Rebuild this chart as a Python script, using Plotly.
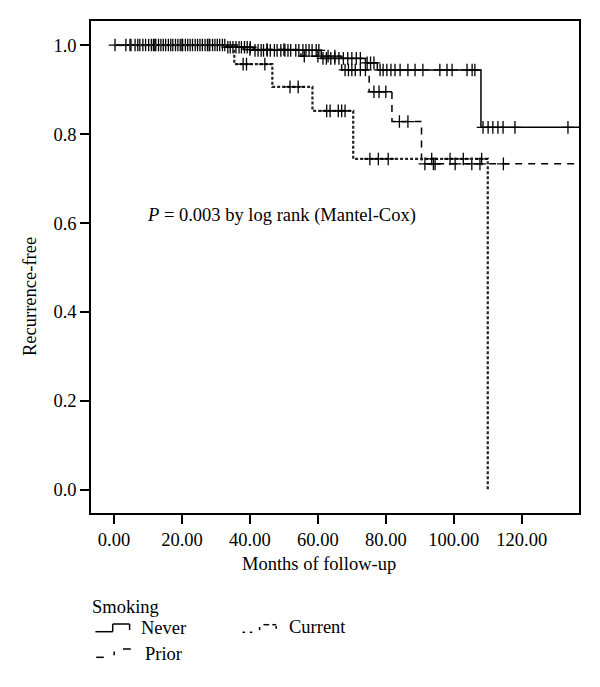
import numpy as np
import plotly.graph_objects as go

# ---------------- data ----------------
never_t = [0, 33, 41, 61, 74, 77.5, 108, 137]
never_s = [1.0, 0.995, 0.988, 0.970, 0.960, 0.944, 0.815, 0.815]
never_cens = [0.3, 3.5, 4.7, 6.2, 7.0, 7.6, 8.5, 9.3, 10.2, 11.0, 11.6, 12.3, 13.1, 13.8,
              14.5, 15.2, 16.0, 16.7, 17.3, 18.1, 18.8, 19.5, 20.2, 21.0, 21.7, 22.4, 23.1,
              23.9, 24.6, 25.3, 26.0, 26.8, 27.5, 28.2, 29.0, 29.7, 30.4, 31.1, 31.9, 32.6,
              33.5, 34.2, 35.0, 35.9, 36.8, 37.5, 38.4, 39.2, 40.1,
              41.5, 42.4, 43.3, 44.0, 45.1, 46.0, 47.2, 48.0, 49.1, 50.3, 51.2, 52.0, 53.5,
              54.4, 55.6, 56.5, 57.4, 58.3, 59.5, 60.3,
              61.5, 62.5, 63.8, 65.0, 66.2, 67.5, 68.8, 70.0, 71.3, 72.5,
              74.5, 75.5, 76.5,
              78.3, 79.2, 80.3, 81.5, 82.7, 84.2, 86.5, 88.6, 90.9, 95.9, 98.0, 99.5,
              103.9, 105.4, 106.2,
              108.6, 110.1, 111.5, 113.0, 114.5, 118.0, 133.6]

prior_t = [0, 38, 55, 67, 75.1, 81.8, 90.5, 137]
prior_s = [1.0, 0.990, 0.975, 0.944, 0.895, 0.828, 0.733, 0.733]
prior_cens = [5.0, 12.0, 20.0, 28.0, 40.0, 45.0, 50.0, 56.0, 60.0, 63.0, 65.0,
              68.0, 69.0, 70.0, 71.0, 72.5, 74.0,
              76.5, 78.0, 80.0, 84.0, 86.5,
              91.5, 94.0, 94.5, 100.4, 105.3, 107.7, 114.6]

current_t = [0, 35.4, 46.6, 58.4, 70.4, 110.0]
current_s = [1.0, 0.957, 0.906, 0.852, 0.744, 0.0]
current_cens = [38.0, 39.0, 44.4, 51.8, 54.2, 62.6, 63.6, 66.0, 67.0, 68.0,
                75.3, 77.8, 80.7, 93.5, 98.9, 102.8, 108.2]

x_ticks = [0, 20, 40, 60, 80, 100, 120]
x_tick_labels = ["0.00", "20.00", "40.00", "60.00", "80.00", "100.00", "120.00"]
y_ticks = [0, 0.2, 0.4, 0.6, 0.8, 1.0]
y_tick_labels = ["0.0", "0.2", "0.4", "0.6", "0.8", "1.0"]

FONT = "Liberation Serif"
FS = 18.5


def step_value(ts, ss, t):
    i = np.searchsorted(np.array(ts), t, side="right") - 1
    return ss[max(i, 0)]


fig = go.Figure()

groups = [
    ("Never", never_t, never_s, never_cens, dict(color="black", width=1.5, dash="solid")),
    ("Prior", prior_t, prior_s, prior_cens, dict(color="black", width=1.5, dash="7px,6px")),
    ("Current", current_t, current_s, current_cens, dict(color="#222", width=2.2, dash="3px,2px")),
]

for name, ts, ss, cens, ln in groups:
    fig.add_trace(go.Scatter(x=ts, y=ss, mode="lines", line=dict(shape="hv", **ln),
                             name=name, showlegend=False, hoverinfo="skip"))
    fig.add_trace(go.Scatter(x=cens, y=[step_value(ts, ss, c) for c in cens], mode="markers",
                             marker=dict(symbol="cross-thin", size=9,
                                         line=dict(color="black", width=1.3)),
                             showlegend=False, hoverinfo="skip"))

W, H = 600, 687
L, R, T, B = 91, 21, 21, 174
PW, PH = W - L - R, H - T - B


def px(x):
    return (x - L) / PW


def py(y):
    return (H - B - y) / PH


def hline(x0, x1, y, **kw):
    return dict(type="line", xref="paper", yref="paper", x0=px(x0), x1=px(x1), y0=py(y), y1=py(y),
                line=dict(color="black", width=1.5, **kw))


def vline(x, y0, y1, **kw):
    return dict(type="line", xref="paper", yref="paper", x0=px(x), x1=px(x), y0=py(y0), y1=py(y1),
                line=dict(color="black", width=1.5, **kw))


shapes = [
    # never legend symbol
    hline(95.4, 112.7, 631.7), vline(112.7, 624, 631.7), hline(112.7, 129.6, 624),
    vline(129.6, 624, 630),
    # prior legend symbol
    hline(96.2, 103.8, 657.3), vline(114.2, 651.5, 655.2), hline(123, 130.8, 649),
    # current legend symbol
    hline(242.5, 245, 632.3), hline(249.8, 252.3, 632.3), vline(259.6, 627, 630.2),
    hline(263.5, 269.2, 624.7), hline(272.3, 276.2, 624.7), vline(276.2, 626, 628.8),
]

txt = dict(family=FONT, size=FS, color="black")
annotations = [
    dict(x=9.1, y=0.616, xref="x", yref="y", text="<i>P</i> = 0.003 by log rank (Mantel-Cox)",
         showarrow=False, xanchor="left", yanchor="middle", font=txt),
    dict(x=px(319), y=py(564), xref="paper", yref="paper", text="Months of follow-up",
         showarrow=False, xanchor="center", yanchor="middle", font=txt),
    dict(x=px(30), y=py(297), xref="paper", yref="paper", text="Recurrence-free", textangle=-90,
         showarrow=False, xanchor="center", yanchor="middle", font=txt),
    dict(x=px(90), y=py(607), xref="paper", yref="paper", text="Smoking",
         showarrow=False, xanchor="left", yanchor="middle", font=txt),
    dict(x=px(139), y=py(628), xref="paper", yref="paper", text="Never",
         showarrow=False, xanchor="left", yanchor="middle", font=txt),
    dict(x=px(143), y=py(654), xref="paper", yref="paper", text="Prior",
         showarrow=False, xanchor="left", yanchor="middle", font=txt),
    dict(x=px(287), y=py(627), xref="paper", yref="paper", text="Current",
         showarrow=False, xanchor="left", yanchor="middle", font=txt),
]

axis_common = dict(showgrid=False, zeroline=False, showline=True, linecolor="black", linewidth=1.5,
                   mirror=True, ticks="outside", ticklen=9, tickwidth=1.5, tickcolor="black",
                   tickfont=dict(family=FONT, size=FS, color="black"))

fig.update_layout(
    width=W, height=H, margin=dict(l=L, r=R, t=T, b=B, pad=0),
    paper_bgcolor="white", plot_bgcolor="white",
    xaxis=dict(range=[-6.77, 136.85], tickvals=x_ticks, ticktext=x_tick_labels, **axis_common),
    yaxis=dict(range=[-0.0517, 1.054], tickvals=y_ticks, ticktext=y_tick_labels, **axis_common),
    shapes=shapes, annotations=annotations, showlegend=False,
    font=dict(family=FONT, size=FS, color="black"),
)

fig.write_html("out.html", config={"displayModeBar": False},
               post_script="document.body.style.margin='0px';document.body.style.overflow='hidden';")
